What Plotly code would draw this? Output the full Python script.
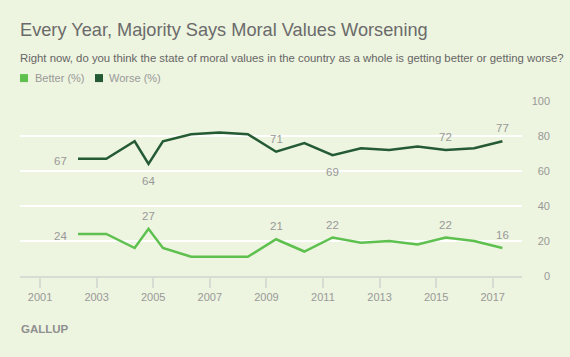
import plotly.graph_objects as go

# ---- data ----
survey_dates = ["2002-05-06", "2003-05-06", "2004-05-06", "2004-11-01", "2005-05-06",
                "2006-05-06", "2007-05-06", "2008-05-06", "2009-05-06", "2010-05-06",
                "2011-05-06", "2012-05-06", "2013-05-06", "2014-05-06", "2015-05-06",
                "2016-05-06", "2017-05-06"]
better_pct = [24, 24, 16, 27, 16, 11, 11, 11, 21, 14, 22, 19, 20, 18, 22, 20, 16]
worse_pct = [67, 67, 77, 64, 77, 81, 82, 81, 71, 76, 69, 73, 72, 74, 72, 73, 77]
# which points carry a value label, and where the label sits
better_labels = {0: "left", 3: "above", 8: "above", 10: "above", 14: "above", 16: "above"}
worse_labels = {0: "left", 3: "below", 8: "above", 10: "below", 14: "above", 16: "above"}
year_ticks = [2001, 2003, 2005, 2007, 2009, 2011, 2013, 2015, 2017]
y_ticks = [0, 20, 40, 60, 80, 100]

BG = "#edf4df"
BETTER_C = "#5ec14f"
WORSE_C = "#255b34"
TXT = "#999999"
FONT = "Liberation Sans, Arial, sans-serif"

fig = go.Figure()
fig.add_trace(go.Scatter(
    x=survey_dates, y=better_pct, mode="lines", name="Better (%)",
    line=dict(color=BETTER_C, width=2.5), showlegend=False, cliponaxis=False))
fig.add_trace(go.Scatter(
    x=survey_dates, y=worse_pct, mode="lines", name="Worse (%)",
    line=dict(color=WORSE_C, width=2.5), showlegend=False, cliponaxis=False))

PLACE = {
    "left": dict(xanchor="right", yanchor="middle", xshift=-9, yshift=-2),
    "above": dict(xanchor="center", yanchor="middle", xshift=0, yshift=13),
    "below": dict(xanchor="center", yanchor="middle", xshift=0, yshift=-16.5),
}

annotations = []
for vals, labs in ((better_pct, better_labels), (worse_pct, worse_labels)):
    for i, where in labs.items():
        annotations.append(dict(
            x=survey_dates[i], y=vals[i], xref="x", yref="y", text=str(vals[i]),
            showarrow=False, font=dict(size=11.5, color=TXT, family=FONT), **PLACE[where]))

annotations += [
    dict(text="Every Year, Majority Says Moral Values Worsening", xref="paper", yref="paper",
         x=0, y=1.406, xanchor="left", yanchor="middle", showarrow=False, xshift=-2,
         font=dict(size=18.2, color="#6b6b6b", family=FONT)),
    dict(text="Right now, do you think the state of moral values in the country as a whole is getting better or getting worse?",
         xref="paper", yref="paper", x=0, y=1.243, xanchor="left", yanchor="middle",
         showarrow=False, xshift=-2, font=dict(size=11.35, color="#666666", family=FONT)),
    dict(text="Better (%)", xref="paper", yref="paper", x=0, y=1.131, xanchor="left",
         yanchor="middle", showarrow=False, xshift=13, font=dict(size=11, color=TXT, family=FONT)),
    dict(text="Worse (%)", xref="paper", yref="paper", x=0, y=1.131, xanchor="left",
         yanchor="middle", showarrow=False, xshift=87, font=dict(size=11, color=TXT, family=FONT)),
    dict(text="<b>GALLUP</b>", xref="paper", yref="paper", x=0, y=-0.30, xanchor="left",
         yanchor="middle", showarrow=False, xshift=-1,
         font=dict(size=11.5, color="#8f8f8f", family=FONT)),
]
shapes = [
    dict(type="rect", xref="paper", yref="paper", xsizemode="pixel", ysizemode="pixel",
         xanchor=0, yanchor=1.131, x0=0, x1=8, y0=-4, y1=4, fillcolor=BETTER_C, line_width=0),
    dict(type="rect", xref="paper", yref="paper", xsizemode="pixel", ysizemode="pixel",
         xanchor=0, yanchor=1.131, x0=75, x1=83, y0=-4, y1=4, fillcolor=WORSE_C, line_width=0),
]

fig.update_layout(
    width=570, height=357,
    margin=dict(l=20, r=20, t=101, b=81),
    paper_bgcolor=BG, plot_bgcolor=BG,
    font=dict(family=FONT, color=TXT),
    showlegend=False,
    annotations=annotations, shapes=shapes,
    xaxis=dict(
        type="date", domain=[0, 0.9466],
        range=["2000-04-17", "2018-01-10"],
        tickvals=[f"{y}-01-01" for y in year_ticks],
        ticktext=[str(y) for y in year_ticks],
        showgrid=False, zeroline=False,
        showline=True, linecolor="#d8dcd2", linewidth=2,
        ticks="outside", ticklen=10, tickwidth=2, tickcolor="#d8dcd2",
        tickfont=dict(size=11, color=TXT, family=FONT),
    ),
    yaxis=dict(
        range=[0, 100], tickvals=y_ticks,
        side="left", anchor="free", position=1,
        showgrid=True, gridcolor="#ffffff", gridwidth=2,
        zeroline=False, showline=False, ticks="",
        tickfont=dict(size=11, color=TXT, family=FONT),
    ),
)

fig.write_html(
    "out.html",
    config={"displayModeBar": False},
    post_script="document.body.style.margin='0';document.body.style.background='%s';" % BG,
)
